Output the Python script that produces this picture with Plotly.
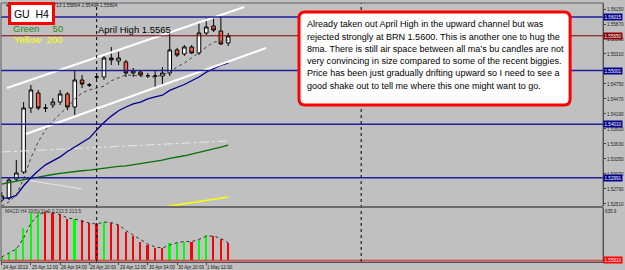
import plotly.graph_objects as go

# ---------------- data ----------------
bars = list(range(32))
open_ = [1.52584, 1.52621, 1.52976, 1.53107, 1.54302, 1.54582, 1.54302, 1.54358, 1.54414, 1.54563,
         1.54320, 1.54824, 1.54731, 1.54880, 1.54880, 1.55235, 1.55179, 1.55161, 1.54955, 1.54974,
         1.54899, 1.54899, 1.54899, 1.54955, 1.55385, 1.55310, 1.55441, 1.55329, 1.55702, 1.55833,
         1.55739, 1.55515]
high = [1.52733, 1.52995, 1.53331, 1.54414, 1.54731, 1.54638, 1.54376, 1.54488, 1.54638, 1.54600,
        1.54993, 1.54918, 1.54768, 1.54899, 1.55273, 1.55441, 1.55347, 1.55198, 1.55049, 1.55011,
        1.54955, 1.55011, 1.55067, 1.55702, 1.55422, 1.55478, 1.55478, 1.55889, 1.55982, 1.56019,
        1.56038, 1.55702]
low = [1.52547, 1.52584, 1.52939, 1.53070, 1.54208, 1.54264, 1.54227, 1.54302, 1.54358, 1.54264,
       1.54171, 1.54675, 1.54694, 1.54843, 1.54824, 1.55105, 1.55105, 1.54880, 1.54880, 1.54880,
       1.54862, 1.54694, 1.54731, 1.54899, 1.55254, 1.55273, 1.55310, 1.55291, 1.55665, 1.55721,
       1.55478, 1.55459]
close = [1.52659, 1.52958, 1.53088, 1.54302, 1.54638, 1.54302, 1.54300, 1.54414, 1.54563, 1.54320,
         1.54824, 1.54750, 1.54731, 1.54880, 1.55235, 1.55198, 1.55235, 1.54955, 1.54993, 1.54918,
         1.54899, 1.54899, 1.54955, 1.55385, 1.55291, 1.55441, 1.55329, 1.55702, 1.55814, 1.55758,
         1.55497, 1.55646]

ma8 = [1.5247, 1.5255, 1.5268, 1.5298, 1.5337, 1.5367, 1.5389, 1.5406, 1.5419, 1.5432, 1.5447,
       1.5458, 1.5464, 1.5467, 1.5471, 1.5481, 1.5486, 1.5492, 1.5491, 1.5490, 1.5489, 1.5488,
       1.5492, 1.5497, 1.5507, 1.5514, 1.5524, 1.5533, 1.5544, 1.5553, 1.5555, 1.5557]
ma20 = [1.5262, 1.5262, 1.5267, 1.5285, 1.5300, 1.5313, 1.5324, 1.5331, 1.5339, 1.5349, 1.5357,
        1.5365, 1.5374, 1.5389, 1.5403, 1.5415, 1.5425, 1.5432, 1.5438, 1.5441, 1.5447, 1.5451,
        1.5454, 1.5463, 1.5468, 1.5474, 1.5481, 1.5488, 1.5497, 1.5504, 1.5510, 1.5514]
ma50 = [1.5288, 1.5291, 1.5294, 1.5297, 1.5299, 1.5301, 1.5304, 1.5306, 1.5308, 1.5310, 1.5311,
        1.5313, 1.5314, 1.5316, 1.5317, 1.5319, 1.5321, 1.5322, 1.5324, 1.5326, 1.5328, 1.5331,
        1.5333, 1.5336, 1.5338, 1.5341, 1.5344, 1.5347, 1.5350, 1.5354, 1.5357, 1.5361]
ma200_x = [22, 27, 31]
ma200 = [1.5245, 1.5255, 1.5264]

upper_channel_x = [0.72, 33.2]
upper_channel_y = [1.54675, 1.56187]
lower_channel_x = [3.32, 36.2]
lower_channel_y = [1.53816, 1.55422]
thin_line_x = [2.5, 10.95]
thin_line_y = [1.52976, 1.52790]
dashdot_x = [0.04, 31.15]
dashdot_y = [1.53480, 1.53686]

blue_levels = [1.5600, 1.5500, 1.5400, 1.5300]
blue_labels = ["1.56015", "1.55001", "1.54010", "1.52991"]
april_high = 1.5565
april_label = "1.55650"

macd_hist = [36, 92, 153, 396, 571, 590, 588, 578, 559, 498, 500, 490, 457, 437, 469, 457, 429,
             347, 299, 226, 186, 153, 146, 207, 214, 226, 224, 247, 307, 295, 255, 213.5]
macd_signal = [40, 89, 137, 271, 453, 550, 587, 581, 556, 514, 502, 477, 453, 441, 465, 459, 429,
               362, 307, 247, 198, 162, 149, 186, 214, 228, 228, 253, 295, 295, 265, 213.5]
macd_up = [1, 1, 1, 1, 1, 1, 0, 0, 0, 0, 1, 0, 0, 0, 1, 0, 0, 0, 0, 0, 0, 0, 0, 1, 1, 1, 0, 1, 1, 0, 0, 0]

time_ticks = [0, 4, 8, 12, 16, 20, 24, 28]
time_labels = ["24 Apr 2013", "25 Apr 12:00", "26 Apr 04:00", "26 Apr 20:00",
               "29 Apr 12:00", "30 Apr 04:00", "30 Apr 20:00", "1 May 12:00"]
separators = [13, 49.2]

price_ticks = [1.5615, 1.5587, 1.5559, 1.5531, 1.5475, 1.5447, 1.5419, 1.5391,
               1.5363, 1.5335, 1.5307, 1.5279, 1.5251]
price_ticktext = ["%.5f" % v for v in price_ticks]

note_lines = ["Already taken out April High in the upward channel but was",
              "rejected strongly at BRN 1.5600. This is another one to hug the",
              "8ma. There is still air space between all ma\u2019s bu candles are not",
              "very convincing in size compared to some of the recent biggies.",
              "Price has been just gradually drifting upward so I need to see a",
              "good shake out to tell me where this one might want to go."]

# ---------------- layout helpers (pixel -> paper) ----------------
W, H = 625, 270
L, R, T, B = 1, 20, 3, 8
PW, PH = W - L - R, H - T - B


def px(x):
    return (x - L) / PW


def py(y):
    return (H - B - y) / PH


def rounded(x0, y0, x1, y1, r):
    X = px
    Y = py
    return (f"M {X(x0 + r)},{Y(y0)} L {X(x1 - r)},{Y(y0)} Q {X(x1)},{Y(y0)} {X(x1)},{Y(y0 + r)} "
            f"L {X(x1)},{Y(y1 - r)} Q {X(x1)},{Y(y1)} {X(x1 - r)},{Y(y1)} "
            f"L {X(x0 + r)},{Y(y1)} Q {X(x0)},{Y(y1)} {X(x0)},{Y(y1 - r)} "
            f"L {X(x0)},{Y(y0 + r)} Q {X(x0)},{Y(y0)} {X(x0 + r)},{Y(y0)} Z")


FONT = "Liberation Sans, Arial, sans-serif"

fig = go.Figure()

fig.add_trace(go.Scatter(x=dashdot_x, y=dashdot_y, mode="lines",
                         line=dict(color="#E8E8E8", width=1, dash="dashdot"), hoverinfo="skip"))
fig.add_trace(go.Scatter(x=thin_line_x, y=thin_line_y, mode="lines",
                         line=dict(color="#E6E6E6", width=1), hoverinfo="skip"))
fig.add_trace(go.Scatter(x=ma200_x, y=ma200, mode="lines",
                         line=dict(color="#FFFF00", width=1.5), hoverinfo="skip"))
fig.add_trace(go.Scatter(x=bars, y=ma50, mode="lines",
                         line=dict(color="#0A6E0A", width=1.3), hoverinfo="skip"))
fig.add_trace(go.Scatter(x=bars, y=ma20, mode="lines",
                         line=dict(color="#000090", width=1.3), hoverinfo="skip"))
fig.add_trace(go.Scatter(x=bars, y=ma8, mode="lines",
                         line=dict(color="#404040", width=1, dash="dot"), hoverinfo="skip"))
fig.add_trace(go.Scatter(x=upper_channel_x, y=upper_channel_y, mode="lines",
                         line=dict(color="#FFFFFF", width=2), hoverinfo="skip"))
fig.add_trace(go.Scatter(x=lower_channel_x, y=lower_channel_y, mode="lines",
                         line=dict(color="#FFFFFF", width=2), hoverinfo="skip"))

fig.add_trace(go.Candlestick(
    x=bars, open=open_, high=high, low=low, close=close,
    increasing=dict(fillcolor="#FFFFFF", line=dict(color="#000000", width=1)),
    decreasing=dict(fillcolor="#FF6347", line=dict(color="#000000", width=1)),
    whiskerwidth=0, hoverinfo="skip"))

fig.add_trace(go.Bar(x=bars, y=macd_hist, width=0.24, yaxis="y2",
                     marker=dict(color=["#00FF00" if u else "#FF0000" for u in macd_up],
                                 line=dict(width=0)), hoverinfo="skip"))
fig.add_trace(go.Scatter(x=bars, y=macd_signal, mode="lines", yaxis="y2",
                         line=dict(color="#303030", width=1, dash="dot"), hoverinfo="skip"))

shapes = []
for lv in blue_levels:
    shapes.append(dict(type="line", xref="paper", yref="y", x0=0, x1=1, y0=lv, y1=lv,
                       line=dict(color="#1E1E9E", width=1.5)))
shapes.append(dict(type="line", xref="paper", yref="y", x0=0, x1=1, y0=april_high, y1=april_high,
                   line=dict(color="#800000", width=1)))
shapes.append(dict(type="line", xref="paper", yref="y2", x0=0, x1=1, y0=0, y1=0,
                   line=dict(color="#FF2020", width=1)))
for s in separators:
    shapes.append(dict(type="line", xref="x", yref="paper", x0=s, x1=s, y0=0, y1=1,
                       line=dict(color="#000000", width=1, dash="dot")))
shapes.append(dict(type="line", xref="paper", yref="paper", x0=0, x1=1, y0=py(207), y1=py(207),
                   line=dict(color="#505050", width=1.5)))
shapes.append(dict(type="rect", xref="paper", yref="paper", x0=0, x1=1, y0=0, y1=1,
                   line=dict(color="#606060", width=1)))
shapes.append(dict(type="path", xref="paper", yref="paper", path=rounded(300, 12, 572, 105, 6),
                   fillcolor="#FFFFFF", line=dict(color="#FF0000", width=3), layer="above"))
fig.update_layout(shapes=shapes)

ann = []
ann.append(dict(xref="paper", yref="paper", x=px(3), y=py(6), xanchor="left", yanchor="middle",
                text="\u25BC", showarrow=False, font=dict(family=FONT, size=4.5, color="#202020")))
ann.append(dict(xref="paper", yref="paper", x=px(13), y=py(6), xanchor="left", yanchor="middle",
                text="GBPUSD,H4 1.55713 1.55894 1.55494 1.55804", showarrow=False,
                font=dict(family=FONT, size=4.8, color="#202020")))
ann.append(dict(xref="paper", yref="paper", x=px(11), y=py(28), xanchor="left", yanchor="middle",
                text="Green\u00a0\u00a0\u00a0\u00a0\u00a050", showarrow=False,
                font=dict(family=FONT, size=9.5, color="#1E8C1E")))
ann.append(dict(xref="paper", yref="paper", x=px(12), y=py(39.5), xanchor="left", yanchor="middle",
                text="Yellow\u00a0\u00a0200", showarrow=False,
                font=dict(family=FONT, size=9.5, color="#FFFF00")))
ann.append(dict(xref="paper", yref="paper", x=px(8), y=py(2.5), xanchor="left", yanchor="top",
                text="GU\u00a0\u00a0H4", showarrow=False, width=41, height=17,
                bgcolor="#FFFFFF", bordercolor="#FF0000", borderwidth=3, borderpad=0,
                font=dict(family=FONT, size=10.5, color="#000000")))
ann.append(dict(xref="paper", yref="paper", x=px(96), y=py(29.5), xanchor="left", yanchor="middle",
                text="April High 1.5565", showarrow=False,
                font=dict(family=FONT, size=9.5, color="#000000")))
for i, line in enumerate(note_lines):
    ann.append(dict(xref="paper", yref="paper", x=px(306), y=py(24.5 + 12.2 * i),
                    xanchor="left", yanchor="middle", text=line, showarrow=False,
                    font=dict(family=FONT, size=9.05, color="#000000")))
ann.append(dict(xref="paper", yref="paper", x=px(3), y=py(212), xanchor="left", yanchor="middle",
                text="MACD H4 20(5)(3)=0.0 213.5 213.5", showarrow=False,
                font=dict(family=FONT, size=4.8, color="#303030")))
for t, lab in zip(time_ticks, time_labels):
    ann.append(dict(xref="x", yref="paper", x=t, y=py(263), xanchor="left", yanchor="top",
                    text=lab, showarrow=False, xshift=-1,
                    font=dict(family=FONT, size=4.6, color="#202020")))
for lv, lab in zip(blue_levels, blue_labels):
    ann.append(dict(xref="paper", yref="y", x=1, y=lv, xanchor="left", yanchor="middle",
                    text=lab, showarrow=False, bgcolor="#00008B", borderpad=0.5,
                    font=dict(family=FONT, size=4.6, color="#FFFFFF")))
ann.append(dict(xref="paper", yref="y", x=1, y=april_high, xanchor="left", yanchor="middle",
                text=april_label, showarrow=False, bgcolor="#8B0000", borderpad=0.5,
                font=dict(family=FONT, size=4.6, color="#FFFFFF")))
ann.append(dict(xref="paper", yref="y2", x=1, y=0, xanchor="left", yanchor="middle",
                text="1.55810", showarrow=False, bgcolor="#FF0000", borderpad=0.5,
                font=dict(family=FONT, size=4.6, color="#FFFFFF")))
fig.update_layout(annotations=ann)

fig.update_layout(
    width=W, height=H, margin=dict(l=L, r=R, t=T, b=B),
    paper_bgcolor="#C0C0C0", plot_bgcolor="#C0C0C0", showlegend=False,
    bargap=0,
    xaxis=dict(range=[-0.095, 82.3], anchor="y2", showgrid=False, zeroline=False,
               tickvals=time_ticks, ticktext=[""] * len(time_ticks), ticks="outside",
               ticklen=2, tickcolor="#404040", showline=True, linecolor="#404040",
               rangeslider=dict(visible=False), fixedrange=True),
    yaxis=dict(domain=[py(206), 1], range=[1.52472, 1.56262], side="right", anchor="x",
               tickvals=price_ticks, ticktext=price_ticktext, ticks="outside", ticklen=2,
               tickcolor="#404040", tickfont=dict(family=FONT, size=4.6, color="#202020"),
               showline=True, linecolor="#404040", showgrid=False, zeroline=False),
    yaxis2=dict(domain=[0, py(208)], range=[-20.7, 635.9], side="right", anchor="x",
                tickvals=[600], ticktext=["635.9"], ticks="",
                tickfont=dict(family=FONT, size=4.6, color="#202020"),
                showline=True, linecolor="#404040", showgrid=False, zeroline=False),
)

fig.write_html("out.html")
